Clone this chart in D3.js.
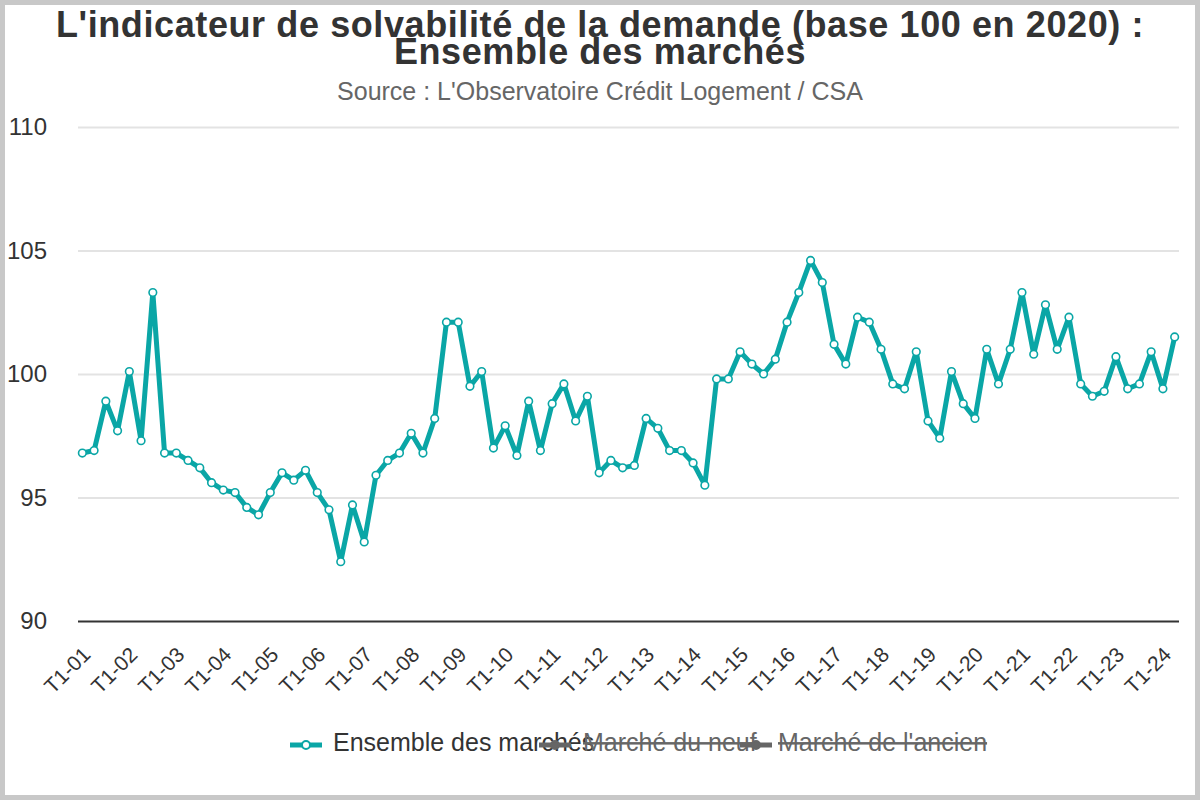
<!DOCTYPE html>
<html>
<head>
<meta charset="utf-8">
<script src="https://cdn.jsdelivr.net/npm/d3@7"></script>
<style>
  body { margin: 0; background: #ffffff; }
  text { font-family: "Liberation Sans", Arial, sans-serif; }
</style>
</head>
<body>
<div id="chart"></div>
<script>
// trimestres T1-01 .. T2-24
var annees = ["01", "02", "03", "04", "05", "06", "07", "08", "09", "10", "11", "12",
    "13", "14", "15", "16", "17", "18", "19", "20", "21", "22", "23", "24"];
var trims = ["T1", "T2", "T3", "T4"];
var tickLabels = ["T1-01", "T1-02", "T1-03", "T1-04", "T1-05", "T1-06", "T1-07", "T1-08",
    "T1-09", "T1-10", "T1-11", "T1-12", "T1-13", "T1-14", "T1-15", "T1-16", "T1-17",
    "T1-18", "T1-19", "T1-20", "T1-21", "T1-22", "T1-23", "T1-24"];
var yTicks = [90, 95, 100, 105, 110];

var ensemble = [
    96.8, 96.9, 98.9, 97.7, 100.1, 97.3, 103.3, 96.8,
    96.8, 96.5, 96.2, 95.6, 95.3, 95.2, 94.6, 94.3,
    95.2, 96.0, 95.7, 96.1, 95.2, 94.5, 92.4, 94.7,
    93.2, 95.9, 96.5, 96.8, 97.6, 96.8, 98.2, 102.1,
    102.1, 99.5, 100.1, 97.0, 97.9, 96.7, 98.9, 96.9,
    98.8, 99.6, 98.1, 99.1, 96.0, 96.5, 96.2, 96.3,
    98.2, 97.8, 96.9, 96.9, 96.4, 95.5, 99.8, 99.8,
    100.9, 100.4, 100.0, 100.6, 102.1, 103.3, 104.6, 103.7,
    101.2, 100.4, 102.3, 102.1, 101.0, 99.6, 99.4, 100.9,
    98.1, 97.4, 100.1, 98.8, 98.2, 101.0, 99.6, 101.0,
    103.3, 100.8, 102.8, 101.0, 102.3, 99.6, 99.1, 99.3,
    100.7, 99.4, 99.6, 100.9, 99.4, 101.5
];
var series = ["Ensemble des marchés", "Marché du neuf", "Marché de l'ancien"];

var categories = [];
annees.forEach(function (a) {
    trims.forEach(function (t) { categories.push(t + "-" + a); });
});
categories = categories.slice(0, ensemble.length);

var W = 1200, H = 800;
var teal = "#0aa6a6";

var svg = d3.select("#chart")
    .append("svg")
    .attr("width", W)
    .attr("height", H);

// cadre gris
svg.append("rect")
    .attr("x", 2.5).attr("y", 2.5)
    .attr("width", W - 5).attr("height", H - 5)
    .attr("fill", "#ffffff")
    .attr("stroke", "#c8c8c8")
    .attr("stroke-width", 5);

var x = d3.scalePoint()
    .domain(categories)
    .range([78, 1179])
    .padding(0.37);

var y = d3.scaleLinear()
    .domain([90, 110])
    .range([621, 127]);

// titres
svg.append("text")
    .attr("x", 600).attr("y", 37)
    .attr("text-anchor", "middle")
    .attr("font-size", 36)
    .attr("font-weight", "bold")
    .attr("letter-spacing", 0.6)
    .attr("fill", "#333333")
    .text("L'indicateur de solvabilité de la demande (base 100 en 2020) :");
svg.append("text")
    .attr("x", 600).attr("y", 64)
    .attr("text-anchor", "middle")
    .attr("font-size", 36)
    .attr("font-weight", "bold")
    .attr("letter-spacing", 0.6)
    .attr("fill", "#333333")
    .text("Ensemble des marchés");
svg.append("text")
    .attr("x", 600).attr("y", 100)
    .attr("text-anchor", "middle")
    .attr("font-size", 25)
    .attr("fill", "#666666")
    .text("Source : L'Observatoire Crédit Logement / CSA");

// grille + axe y
var yAxis = d3.axisLeft(y)
    .tickValues(yTicks)
    .tickSize(-(1179 - 78))
    .tickPadding(31)
    .tickFormat(d3.format("d"));

var gy = svg.append("g")
    .attr("transform", "translate(78,0)")
    .call(yAxis);
gy.select(".domain").remove();
gy.selectAll(".tick line")
    .attr("stroke", function (d) { return d === 90 ? "#333333" : "#e3e3e3"; })
    .attr("stroke-width", 2);
gy.selectAll(".tick text")
    .attr("font-size", 24)
    .attr("fill", "#333333")
    .attr("font-family", "Liberation Sans, Arial, sans-serif");

// axe x
var xAxis = d3.axisBottom(x)
    .tickValues(tickLabels)
    .tickSize(0)
    .tickPadding(0);

var gx = svg.append("g")
    .attr("transform", "translate(0,621)")
    .call(xAxis);
gx.select(".domain").remove();
gx.selectAll(".tick text")
    .attr("font-size", 21)
    .attr("fill", "#333333")
    .attr("font-family", "Liberation Sans, Arial, sans-serif")
    .attr("text-anchor", "end")
    .attr("dy", null)
    .attr("y", 0)
    .attr("transform", "translate(9,35) rotate(-45)");

// courbe
var line = d3.line()
    .x(function (d, i) { return x(categories[i]); })
    .y(function (d) { return y(d); });

svg.append("path")
    .datum(ensemble)
    .attr("fill", "none")
    .attr("stroke", teal)
    .attr("stroke-width", 5)
    .attr("stroke-linejoin", "round")
    .attr("d", line);

svg.selectAll("circle.pt")
    .data(ensemble)
    .enter()
    .append("circle")
    .attr("class", "pt")
    .attr("cx", function (d, i) { return x(categories[i]); })
    .attr("cy", function (d) { return y(d); })
    .attr("r", 3.8)
    .attr("fill", "#ffffff")
    .attr("stroke", teal)
    .attr("stroke-width", 1.6);

// légende (neuf et ancien masqués)
var legX = [290, 539, 740];
var legTxt = [333, 583, 778];
var legY = 745;

var leg = svg.selectAll("g.leg")
    .data(series)
    .enter()
    .append("g")
    .attr("class", "leg");

leg.append("line")
    .attr("x1", function (d, i) { return legX[i]; })
    .attr("x2", function (d, i) { return legX[i] + 32; })
    .attr("y1", legY).attr("y2", legY)
    .attr("stroke", function (d, i) { return i === 0 ? teal : "#666666"; })
    .attr("stroke-width", 5);
leg.append("circle")
    .attr("cx", function (d, i) { return legX[i] + 16; })
    .attr("cy", legY)
    .attr("r", 4)
    .attr("fill", function (d, i) { return i === 0 ? "#ffffff" : "#666666"; })
    .attr("stroke", function (d, i) { return i === 0 ? teal : "#666666"; })
    .attr("stroke-width", 2);
leg.append("text")
    .attr("x", function (d, i) { return legTxt[i]; })
    .attr("y", legY + 6)
    .attr("font-size", 25)
    .attr("fill", function (d, i) { return i === 0 ? "#333333" : "#666666"; })
    .style("text-decoration", function (d, i) { return i === 0 ? "none" : "line-through"; })
    .text(function (d) { return d; });
</script>
</body>
</html>
